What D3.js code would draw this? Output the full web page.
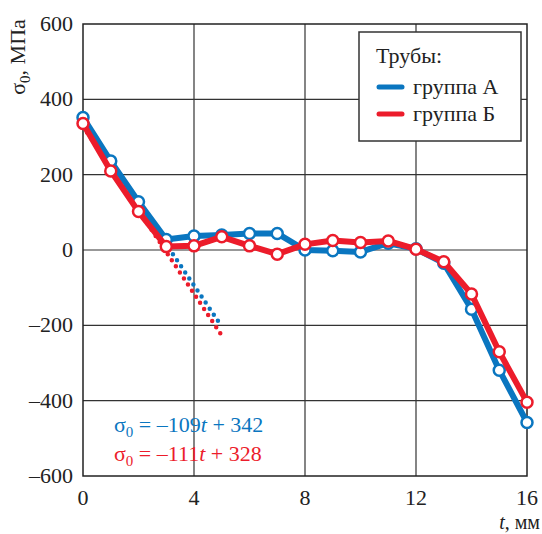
<!DOCTYPE html>
<html>
<head>
<meta charset="utf-8">
<script src="https://cdn.jsdelivr.net/npm/d3@7"></script>
<style>
  body { margin: 0; background: #fff; }
</style>
</head>
<body>
<svg id="chart"></svg>
<script>
// Data
const thickness = [0, 1, 2, 3, 4, 5, 6, 7, 8, 9, 10, 11, 12, 13, 14, 15, 16];
const groupA = [352, 236, 128, 28, 37, 40, 44, 44, 0, -2, -5, 18, 3, -35, -157, -319, -458];
const groupB = [336, 210, 102, 9, 11, 35, 11, -11, 15, 25, 20, 24, 2, -31, -117, -270, -404];
// regression lines, endpoints at t = 0 and t = 5
const fitT = [0, 5];
const fitA = [342, -203];
const fitB = [328, -227];
const xTicks = [0, 4, 8, 12, 16];
const yTicks = [-600, -400, -200, 0, 200, 400, 600];

const width = 542, height = 534;
const plotLeft = 83, plotRight = 527, plotTop = 24, plotBottom = 476;
const blue = "#0a76c0", red = "#ec1c2b";
const font = "'Liberation Serif', 'Times New Roman', serif";

const svg = d3.select("#chart")
    .attr("width", width)
    .attr("height", height)
    .attr("font-family", font);

const x = d3.scaleLinear().domain([0, 16]).range([plotLeft, plotRight]);
const y = d3.scaleLinear().domain([-600, 600]).range([plotBottom, plotTop]);

// grid
svg.append("g")
    .selectAll("line")
    .data(xTicks.slice(1, -1))
    .join("line")
    .attr("x1", d => x(d)).attr("x2", d => x(d))
    .attr("y1", plotTop).attr("y2", plotBottom)
    .attr("stroke", "#333").attr("stroke-width", 1.2);

svg.append("g")
    .selectAll("line")
    .data(yTicks.slice(1, -1))
    .join("line")
    .attr("x1", plotLeft).attr("x2", plotRight)
    .attr("y1", d => y(d)).attr("y2", d => y(d))
    .attr("stroke", "#333").attr("stroke-width", 1.2);

svg.append("rect")
    .attr("x", plotLeft).attr("y", plotTop)
    .attr("width", plotRight - plotLeft).attr("height", plotBottom - plotTop)
    .attr("fill", "none").attr("stroke", "#222").attr("stroke-width", 1.5);

// tick labels
svg.append("g")
    .selectAll("text")
    .data(yTicks)
    .join("text")
    .attr("x", plotLeft - 10)
    .attr("y", d => y(d) + 7)
    .attr("text-anchor", "end")
    .attr("font-size", 22)
    .attr("fill", "#222")
    .text(d => d < 0 ? "\u2013" + Math.abs(d) : d);

svg.append("g")
    .selectAll("text")
    .data(xTicks)
    .join("text")
    .attr("x", d => x(d))
    .attr("y", 505)
    .attr("text-anchor", "middle")
    .attr("font-size", 22)
    .attr("fill", "#222")
    .text(d => d);

// axis titles
const yTitle = svg.append("text")
    .attr("transform", "translate(25,57) rotate(-90)")
    .attr("text-anchor", "middle")
    .attr("font-size", 22)
    .attr("fill", "#222");
yTitle.append("tspan").text("\u03c3");
yTitle.append("tspan").attr("font-size", 15).attr("dy", 5).text("0");
yTitle.append("tspan").attr("dy", -5).text(", МПа");

const xTitle = svg.append("text")
    .attr("x", 540).attr("y", 529)
    .attr("text-anchor", "end")
    .attr("font-size", 20)
    .attr("fill", "#222");
xTitle.append("tspan").attr("font-style", "italic").text("t");
xTitle.append("tspan").text(", мм");

// regression lines (dotted)
const line = d3.line()
    .x(d => x(d[0]))
    .y(d => y(d[1]));

[[fitA, blue], [fitB, red]].forEach(([vals, color]) => {
    svg.append("path")
        .datum(fitT.map((t, i) => [t, vals[i]]))
        .attr("d", line)
        .attr("fill", "none")
        .attr("stroke", color)
        .attr("stroke-width", 4.5)
        .attr("stroke-linecap", "round")
        .attr("stroke-dasharray", "0 7.3");
});

// data series
[[groupA, blue], [groupB, red]].forEach(([vals, color]) => {
    const pts = thickness.map((t, i) => [t, vals[i]]);
    svg.append("path")
        .datum(pts)
        .attr("d", line)
        .attr("fill", "none")
        .attr("stroke", color)
        .attr("stroke-width", 6)
        .attr("stroke-linejoin", "round");
    svg.append("g")
        .selectAll("circle")
        .data(pts)
        .join("circle")
        .attr("cx", d => x(d[0]))
        .attr("cy", d => y(d[1]))
        .attr("r", 5.5)
        .attr("fill", "#fff")
        .attr("stroke", color)
        .attr("stroke-width", 2.5);
});

// legend
const legend = svg.append("g");
legend.append("rect")
    .attr("x", 359).attr("y", 32)
    .attr("width", 162).attr("height", 109)
    .attr("fill", "#fff").attr("stroke", "#333").attr("stroke-width", 1.5);
legend.append("text")
    .attr("x", 376).attr("y", 63)
    .attr("font-size", 22).attr("fill", "#222")
    .text("Трубы:");
const legendData = [
    { label: "группа А", color: blue },
    { label: "группа Б", color: red }
];
legendData.forEach((d, i) => {
    const yy = 87 + i * 27;
    legend.append("line")
        .attr("x1", 379).attr("x2", 402)
        .attr("y1", yy).attr("y2", yy)
        .attr("stroke", d.color).attr("stroke-width", 5)
        .attr("stroke-linecap", "round");
    legend.append("text")
        .attr("x", 413).attr("y", yy + 7)
        .attr("font-size", 22).attr("fill", "#222")
        .text(d.label);
});

// equations
const equations = [
    { k: "\u2013109", b: "342", color: blue },
    { k: "\u2013111", b: "328", color: red }
];
equations.forEach((d, i) => {
    const t = svg.append("text")
        .attr("x", 114).attr("y", 432 + i * 29)
        .attr("font-size", 22).attr("fill", d.color);
    t.append("tspan").text("\u03c3");
    t.append("tspan").attr("font-size", 15).attr("dy", 5).text("0");
    t.append("tspan").attr("dy", -5).text(" = " + d.k);
    t.append("tspan").attr("font-style", "italic").text("t");
    t.append("tspan").text(" + " + d.b);
});
</script>
</body>
</html>
